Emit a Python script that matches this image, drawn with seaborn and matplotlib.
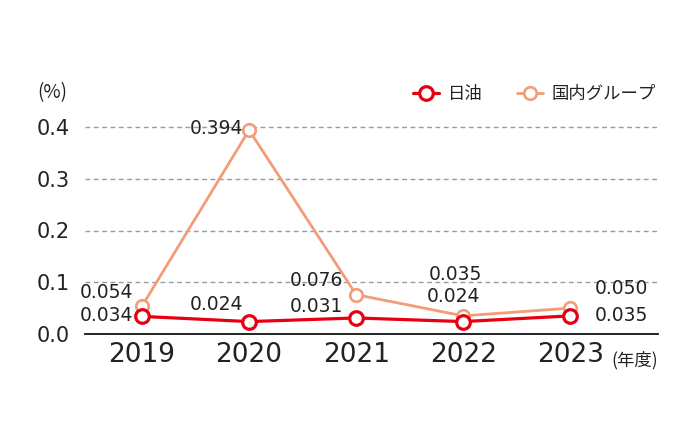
import matplotlib
matplotlib.use("Agg")
import matplotlib.pyplot as plt
import seaborn as sns
import pandas as pd

years = ["2019", "2020", "2021", "2022", "2023"]
nof_values = [0.034, 0.024, 0.031, 0.024, 0.035]
group_values = [0.054, 0.394, 0.076, 0.035, 0.050]
nof_labels = ["0.034", "0.024", "0.031", "0.024", "0.035"]
group_labels = ["0.054", "0.394", "0.076", "0.035", "0.050"]
series_names = ["日油", "国内グループ"]
yticks = [0.0, 0.1, 0.2, 0.3, 0.4]

RED = "#E60012"
ORANGE = "#F29D76"

sns.set_theme(style="white")
plt.rcParams["font.family"] = ["DejaVu Sans", "Noto Sans CJK JP"]

fig = plt.figure(figsize=(7, 4.33), dpi=100)
ax = fig.add_axes([85/700, 99/433, (658-85)/700, 0.42*517.5/433])

df_n = pd.DataFrame({"year": years, "value": nof_values})
df_g = pd.DataFrame({"year": years, "value": group_values})

sns.lineplot(data=df_g, x="year", y="value", ax=ax, color=ORANGE, linewidth=2.0,
             marker="o", markersize=9, markerfacecolor="white",
             markeredgecolor=ORANGE, markeredgewidth=1.9, label=series_names[1], zorder=3)
sns.lineplot(data=df_n, x="year", y="value", ax=ax, color=RED, linewidth=2.3,
             marker="o", markersize=9.8, markerfacecolor="white",
             markeredgecolor=RED, markeredgewidth=2.3, label=series_names[0], zorder=4)

ax.set_xlim(-0.533, 4.82)
ax.set_ylim(0, 0.42)
ax.set_yticks(yticks)
ax.set_yticklabels([f"{v:.1f}" for v in yticks], fontsize=15, color="#222222")
ax.tick_params(axis="y", length=0, pad=11)
ax.tick_params(axis="x", length=0, pad=6, labelsize=19, labelcolor="#222222")
ax.set_xlabel("")
ax.set_ylabel("")

for y in yticks[1:]:
    ax.axhline(y, color="#939CAD", linestyle=(0, (3.5, 2.5)), linewidth=1.0, zorder=1)

for s in ["top", "right", "left"]:
    ax.spines[s].set_visible(False)
ax.spines["bottom"].set_color("#111111")
ax.spines["bottom"].set_linewidth(1.3)

fs = 13.5
tc = "#222222"
# offsets in pixels relative to each marker: (dx, dy, ha, va)
g_off = [(-9, 14, "right", "center"), (-6, 2, "right", "center"),
         (-13, 14, "right", "center"), (-8, 41, "center", "center"),
         (25, 20, "left", "center")]
n_off = [(-9, 1, "right", "center"), (-6, 17, "right", "center"),
         (-13, 11, "right", "center"), (-10, 25, "center", "center"),
         (25, 0, "left", "center")]
for i in range(len(years)):
    dx, dy, ha, va = g_off[i]
    ax.annotate(group_labels[i], (i, group_values[i]), xytext=(dx, dy),
                textcoords="offset pixels", ha=ha, va=va, fontsize=fs, color=tc, zorder=5)
    dx, dy, ha, va = n_off[i]
    ax.annotate(nof_labels[i], (i, nof_values[i]), xytext=(dx, dy),
                textcoords="offset pixels", ha=ha, va=va, fontsize=fs, color=tc, zorder=5)

fig.text(52/700, 1 - 93/433, "(%)", fontsize=13.5, ha="center", va="center",
         color=tc, family=["Noto Sans CJK JP", "DejaVu Sans"])
fig.text(635/700, 1 - 360/433, "(年度)", fontsize=12.5, ha="center", va="center",
         color=tc, family=["Noto Sans CJK JP", "DejaVu Sans"])

h, l = ax.get_legend_handles_labels()
order = [l.index(series_names[0]), l.index(series_names[1])]
leg = ax.legend([h[i] for i in order], [l[i] for i in order], loc="center right",
                bbox_to_anchor=(656/700, 1 - 94/433), bbox_transform=fig.transFigure,
                ncol=2, frameon=False, handlelength=1.5, handletextpad=0.5,
                columnspacing=2.0, borderaxespad=0, borderpad=0,
                prop={"family": ["Noto Sans CJK JP", "DejaVu Sans"], "size": 12.5})
for t in leg.get_texts():
    t.set_color(tc)

fig.savefig("out.png", dpi=100, facecolor="white")
